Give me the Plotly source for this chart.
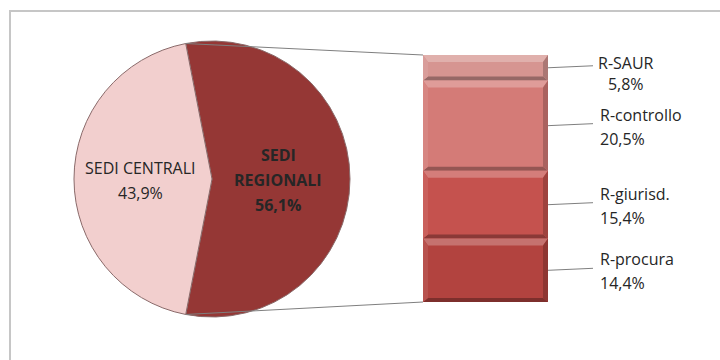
import math
import plotly.graph_objects as go

# ---- data ----
pie_labels = ["SEDI REGIONALI", "SEDI CENTRALI"]
pie_values = [56.1, 43.9]
pie_colors = ["#953735", "#f2cfce"]

bar_labels = ["R-SAUR", "R-controllo", "R-giurisd.", "R-procura"]   # top to bottom
bar_values = [5.8, 20.5, 15.4, 14.4]
bar_colors = ["#d69591", "#d47b77", "#c5524e", "#b2433f"]

W, H = 720, 360
FONT = "Open Sans"
FS = 16
TXT = "#262626"


def pct(v):
    return f"{v:.1f}".replace(".", ",") + "%"


def px_x(p):
    return p / W


def px_y(p):
    return (H - p) / H


def note(text, x, y, xref="paper", yref="paper", yshift=0, xanchor="center", bold=False):
    return dict(text=f"<b>{text}</b>" if bold else text, x=x, y=y, xref=xref, yref=yref,
                yshift=yshift, xanchor=xanchor, yanchor="middle", showarrow=False,
                font=dict(family=FONT, size=FS, color=TXT))


# ---- layout geometry (pixels) ----
pie_cx, pie_cy, pie_r = 212, 179, 138
bar_left, bar_right, bar_top, bar_bottom = 423, 548, 55, 302

bar_total = sum(bar_values)
ydom = [px_y(bar_bottom), px_y(bar_top)]
units_per_px = bar_total / (bar_bottom - bar_top)

fig = go.Figure()

# pie: the regional slice is centred on the right-hand side
share = pie_values[0] / sum(pie_values)
rotation = 90 - share * 180
fig.add_trace(go.Pie(
    labels=pie_labels, values=pie_values, sort=False, direction="clockwise",
    rotation=rotation, textinfo="none", hoverinfo="label+percent",
    marker=dict(colors=pie_colors, line=dict(color="#8a6a6a", width=1)),
    domain=dict(x=[px_x(pie_cx - pie_r), px_x(pie_cx + pie_r)],
                y=[px_y(pie_cy + pie_r), px_y(pie_cy - pie_r)]),
    showlegend=False,
))

# stacked bar, drawn bottom-up
for lab, val, col in reversed(list(zip(bar_labels, bar_values, bar_colors))):
    fig.add_trace(go.Bar(
        x=[0], y=[val], width=1, name=lab, marker=dict(color=col, line=dict(width=0)),
        showlegend=False, hoverinfo="name+y", xaxis="x", yaxis="y",
    ))


def blend(hexcol, target, t):
    c = [int(hexcol[i:i + 2], 16) for i in (1, 3, 5)]
    g = [int(target[i:i + 2], 16) for i in (1, 3, 5)]
    m = [round(a + (b - a) * t) for a, b in zip(c, g)]
    return "#%02x%02x%02x" % tuple(m)


shapes = []
annotations = []

# bevel faces, leader lines and labels for each bar segment
xl, xr = px_x(bar_left), px_x(bar_right)
tb, bb, sb = 7, 4, 5  # bevel sizes in pixels
cum = bar_total
for lab, val, col in zip(bar_labels, bar_values, bar_colors):
    top_v, bot_v = cum, cum - val
    cum = bot_v
    yt = ydom[0] + top_v / bar_total * (ydom[1] - ydom[0])
    yb = ydom[0] + bot_v / bar_total * (ydom[1] - ydom[0])
    dxs, dyt, dyb = sb / W, tb / H, bb / H
    faces = [
        (f"M{xl},{yt} L{xr},{yt} L{xr-dxs},{yt-dyt} L{xl+dxs},{yt-dyt} Z", blend(col, "#ffffff", 0.25)),
        (f"M{xl},{yb} L{xr},{yb} L{xr-dxs},{yb+dyb} L{xl+dxs},{yb+dyb} Z", blend(col, "#000000", 0.3)),
        (f"M{xr},{yt} L{xr},{yb} L{xr-dxs},{yb+dyb} L{xr-dxs},{yt-dyt} Z", blend(col, "#000000", 0.2)),
        (f"M{xl},{yt} L{xl},{yb} L{xl+dxs},{yb+dyb} L{xl+dxs},{yt-dyt} Z", blend(col, "#ffffff", 0.08)),
    ]
    for path, fill in faces:
        shapes.append(dict(type="path", xref="paper", yref="paper", layer="above",
                           path=path, fillcolor=fill, line=dict(width=0)))

    mid = (top_v + bot_v) / 2
    shapes.append(dict(type="line", xref="paper", yref="y",
                       x0=xr, y0=mid, x1=px_x(593), y1=mid + 2 * units_per_px,
                       line=dict(color="#7f7f7f", width=1)))

    if lab == "R-SAUR":
        # short segment: the two lines sit centred under each other
        annotations.append(dict(
            text=f"{lab}<br>{pct(val)}", xref="paper", yref="y", x=px_x(626), y=mid,
            yshift=-6, xanchor="center", align="center", yanchor="middle",
            showarrow=False, font=dict(family=FONT, size=FS, color=TXT)))
    else:
        annotations.append(note(lab, px_x(598), mid, yref="y", yshift=11, xanchor="left"))
        annotations.append(note(pct(val), px_x(598), mid, yref="y", yshift=-13, xanchor="left"))

# connectors between the pie's split points and the bar
ang = math.radians(rotation)
pt_top = (pie_cx + pie_r * math.sin(ang), pie_cy - pie_r * math.cos(ang))
pt_bot = (pt_top[0], 2 * pie_cy - pt_top[1])
for (px, py), by in ((pt_top, bar_top), (pt_bot, bar_bottom)):
    shapes.append(dict(type="line", xref="paper", yref="paper",
                       x0=px_x(px), y0=px_y(py), x1=xl, y1=px_y(by),
                       line=dict(color="#7f7f7f", width=1)))

# chart frame
shapes.append(dict(type="rect", xref="paper", yref="paper",
                   x0=px_x(10), y0=-0.05, x1=1.05, y1=px_y(11),
                   line=dict(color="#c6c6c6", width=2), fillcolor="rgba(0,0,0,0)"))

# pie labels
annotations += [
    note(pie_labels[1], px_x(140), px_y(168)),
    note(pct(pie_values[1]), px_x(140), px_y(193)),
]
for i, part in enumerate(pie_labels[0].split(" ") + [pct(pie_values[0])]):
    annotations.append(note(part, px_x(278), px_y(155 + 25 * i), bold=True))

fig.update_layout(
    width=W, height=H, margin=dict(l=0, r=0, t=0, b=0),
    paper_bgcolor="white", plot_bgcolor="white",
    barmode="stack", bargap=0,
    xaxis=dict(domain=[xl, xr], range=[-0.5, 0.5], visible=False, fixedrange=True),
    yaxis=dict(domain=ydom, range=[0, bar_total], visible=False, fixedrange=True),
    shapes=shapes, annotations=annotations,
)

fig.write_html("out.html")
